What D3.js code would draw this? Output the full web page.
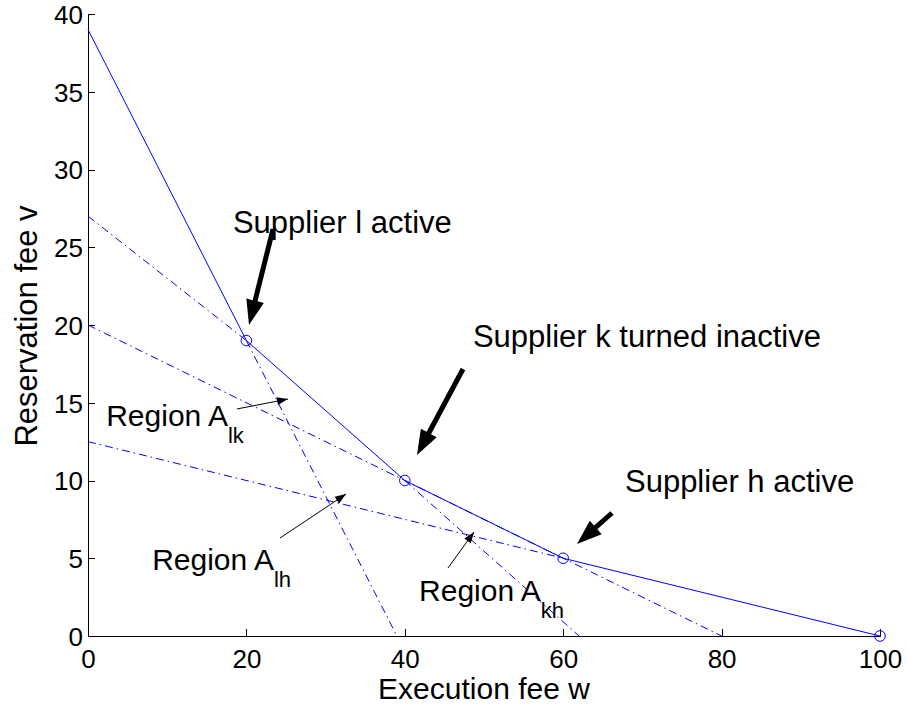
<!DOCTYPE html>
<meta charset="utf-8">
<style>
  body { margin: 0; background: #fff; }
  svg text { font-family: "Liberation Sans", Arial, Helvetica, sans-serif; fill: #000; }
  .axis path, .axis line { fill: none; stroke: #000; shape-rendering: crispEdges; }
  .axis text { font-size: 26px; }
</style>

<div class="chart"></div>

<script src="https://cdn.jsdelivr.net/npm/d3@7"></script>

<script>
    // lower envelope (solid) and its breakpoints
    var envelopeW = [0, 20, 40, 60, 100],
        envelopeV = [39, 19, 10, 5, 0];
    var markerW = [20, 40, 60, 100],
        markerV = [19, 10, 5, 0];

    // supplier lines drawn dash-dot: start w, start v, end w, end v
    var dashStartW = [20, 0, 0, 40, 0],
        dashStartV = [19, 27, 20, 10, 12.5],
        dashEndW   = [39, 20, 80, 62, 60],
        dashEndV   = [0, 19, 0, 0, 5];

    var xTicks = [0, 20, 40, 60, 80, 100],
        yTicks = [0, 5, 10, 15, 20, 25, 30, 35, 40];

    // annotations (data units)
    var bigLabels = ["Supplier l active", "Supplier k turned inactive", "Supplier h active"],
        bigLabelW = [18.3, 48.6, 67.8],
        bigLabelV = [25.9, 18.6, 9.26],
        bigTailW = [23.36, 47.35, 66.16],
        bigTailV = [26.17, 17.17, 7.91],
        bigTipW = [20.33, 41.54, 61.74],
        bigTipV = [20.0, 11.64, 5.92];

    var regionSubs = ["lk", "lh", "kh"],
        regionW = [2.3, 8.1, 41.8],
        regionV = [13.5, 4.24, 2.25],
        regionTailW = [18.81, 24.24, 45.45],
        regionTailV = [14.60, 6.30, 4.37],
        regionTipW = [25.25, 32.58, 48.74],
        regionTipV = [15.24, 9.13, 6.69];

    var margin = {top: 14, right: 28, bottom: 75, left: 88},
        width = 908 - margin.left - margin.right,
        height = 711 - margin.top - margin.bottom;

    var x = d3.scaleLinear().domain([0, 100]).range([0, width]);
    var y = d3.scaleLinear().domain([0, 40]).range([height, 0]);

    var svg = d3.select(".chart").append("svg")
        .attr("width", 908)
        .attr("height", 711)
      .append("g")
        .attr("transform", "translate(" + margin.left + "," + margin.top + ")");

    // axes, ticks pointing inward
    svg.append("g")
        .attr("class", "x axis")
        .attr("transform", "translate(0," + height + ")")
        .call(d3.axisBottom(x).tickValues(xTicks).tickSizeInner(-7).tickSizeOuter(0).tickPadding(12))
        .selectAll("text").attr("dy", "0.78em");

    svg.append("g")
        .attr("class", "y axis")
        .call(d3.axisLeft(y).tickValues(yTicks).tickSizeInner(-7).tickSizeOuter(0).tickPadding(5))
        .selectAll("text").attr("dy", "0.36em");

    var line = d3.line().x((d) => x(d[0])).y((d) => y(d[1]));

    dashStartW.forEach((w0, i) => {
      svg.append("path")
          .attr("d", line([[w0, dashStartV[i]], [dashEndW[i], dashEndV[i]]]))
          .attr("fill", "none")
          .attr("stroke", "#0000ff")
          .attr("stroke-width", 1)
          .attr("stroke-dasharray", "8,4,1.5,4");
    });

    svg.append("path")
        .attr("d", line(envelopeW.map((w, i) => [w, envelopeV[i]])))
        .attr("fill", "none")
        .attr("stroke", "#0000ff")
        .attr("stroke-width", 1);

    svg.selectAll(".marker")
        .data(markerW)
        .enter().append("circle")
        .attr("class", "marker")
        .attr("cx", (d) => x(d))
        .attr("cy", (d, i) => y(markerV[i]))
        .attr("r", 5.3)
        .attr("fill", "none")
        .attr("stroke", "#0000ff")
        .attr("stroke-width", 1);

    // arrow as polygon from tail to tip
    function arrow(x0, y0, x1, y1, shaft, headLen, headHalf) {
      var dx = x1 - x0, dy = y1 - y0, len = Math.sqrt(dx * dx + dy * dy);
      var ux = dx / len, uy = dy / len, nx = -uy, ny = ux;
      var bx = x1 - ux * headLen, by = y1 - uy * headLen;
      var s = shaft / 2;
      var pts = [
        [x0 + nx * s, y0 + ny * s], [bx + nx * s, by + ny * s],
        [bx + nx * headHalf, by + ny * headHalf], [x1, y1],
        [bx - nx * headHalf, by - ny * headHalf], [bx - nx * s, by - ny * s],
        [x0 - nx * s, y0 - ny * s]
      ];
      return "M" + pts.map((p) => p.join(",")).join("L") + "Z";
    }

    bigLabels.forEach((t, i) => {
      svg.append("text")
          .attr("x", x(bigLabelW[i]))
          .attr("y", y(bigLabelV[i]))
          .attr("font-size", "31px")
          .text(t);
      svg.append("path")
          .attr("d", arrow(x(bigTailW[i]), y(bigTailV[i]), x(bigTipW[i]), y(bigTipV[i]), 5, 25, 9))
          .attr("fill", "#000");
    });

    regionSubs.forEach((s, i) => {
      var txt = svg.append("text")
          .attr("x", x(regionW[i]))
          .attr("y", y(regionV[i]))
          .attr("font-size", "30px")
          .text("Region A");
      txt.append("tspan")
          .attr("font-size", "22px")
          .attr("dy", 17)
          .text(s);
      svg.append("line")
          .attr("x1", x(regionTailW[i])).attr("y1", y(regionTailV[i]))
          .attr("x2", x(regionTipW[i])).attr("y2", y(regionTipV[i]))
          .attr("stroke", "#000").attr("stroke-width", 1);
      svg.append("path")
          .attr("d", arrow(x(regionTailW[i]), y(regionTailV[i]), x(regionTipW[i]), y(regionTipV[i]), 0, 11, 4))
          .attr("fill", "#000");
    });

    svg.append("text")
        .attr("x", 484 - margin.left)
        .attr("y", height + 63)
        .attr("text-anchor", "middle")
        .attr("font-size", "30px")
        .text("Execution fee w");

    svg.append("text")
        .attr("transform", "rotate(-90)")
        .attr("x", -(326 - margin.top))
        .attr("y", 37 - margin.left)
        .attr("text-anchor", "middle")
        .attr("font-size", "31px")
        .text("Reservation fee v");
</script>
